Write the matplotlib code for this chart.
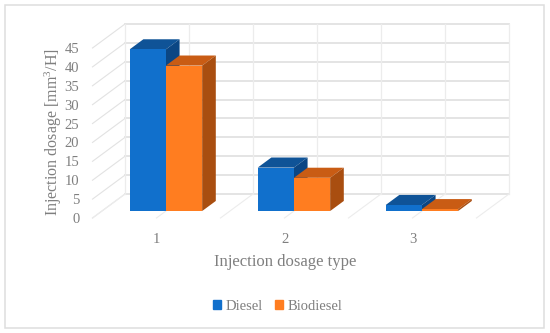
import numpy as np
from matplotlib import pyplot as plt
from matplotlib.patches import Patch, Rectangle

categories = [1, 2, 3]
diesel = [42.8, 11.5, 1.6]
biodiesel = [38.5, 8.8, 0.5]
y_ticks = [0, 5, 10, 15, 20, 25, 30, 35, 40, 45]

plt.rcParams['font.family'] = ['Liberation Serif', 'DejaVu Serif']
plt.rcParams['mathtext.default'] = 'regular'

W, H = 550, 333
txt = '#7f7f7f'
grid = '#e2e2e2'

fig = plt.figure(figsize=(W/100, H/100), dpi=100)
ax = fig.add_axes([92.5/W, (H-218)/H, 384/W, 170/H], xlim=(0.5, 3.5), ylim=(0, 45))
for s in ax.spines.values():
    s.set_visible(False)
ax.patch.set_alpha(0)

# oblique depth of the box, in data units
DX = 32.5/128
DY = 24/(170/45)
t0, t1 = 0.29, 0.71
bw = 0.283

# walls
for v in y_ticks:
    ax.plot([0.5, 0.5+DX], [v, v+DY], color=grid, lw=0.8, clip_on=False, zorder=1)
    ax.plot([0.5+DX, 3.5+DX], [v+DY, v+DY], color=grid, lw=1.3, clip_on=False, zorder=1)
for x in np.arange(0.5, 3.51, 0.5):
    ax.plot([x+DX, x+DX], [DY, 45+DY], color='#ececec', lw=0.9, clip_on=False, zorder=1)
    ax.plot([x, x+DX], [0, DY], color='#ececec', lw=0.8, clip_on=False, zorder=1)


def bars3d(xs, vals, front, top, side, z):
    for x, v in zip(xs, vals):
        l, r = x + t0*DX, x + t0*DX + bw
        b = t0*DY
        ddx = (t1-t0)*DX
        ddy = (t1-t0)*DY
        ax.fill([l, r, r+ddx, l+ddx], [b+v, b+v, b+v+ddy, b+v+ddy], color=top, lw=0, clip_on=False, zorder=z)
        ax.fill([r, r+ddx, r+ddx, r], [b, b+ddy, b+v+ddy, b+v], color=side, lw=0, clip_on=False, zorder=z)
        ax.bar(l, v, width=bw, bottom=b, align='edge', color=front, lw=0, clip_on=False, zorder=z)


cat = np.array(categories, dtype=float)
bars3d(cat - bw, diesel, '#1170cc', '#0f5397', '#0b4684', 3)
bars3d(cat, biodiesel, '#ff7d20', '#c95c14', '#a94e10', 4)

ax.set_xticks(categories)
ax.set_yticks(y_ticks)
ax.tick_params(length=0, labelcolor=txt, labelsize=10.5)
ax.tick_params(axis='x', pad=10.5)
ax.tick_params(axis='y', pad=9.5)

ax.set_xlabel('Injection dosage type', color=txt, fontsize=12)
ax.xaxis.set_label_coords((285-92.5)/384, -(262-218)/170, transform=ax.transAxes)
ax.xaxis.label.set_verticalalignment('center')
ax.set_ylabel('Injection dosage [mm$^3$/H]', color=txt, fontsize=11.5)
ax.yaxis.set_label_coords((53-92.5)/384, (218-132)/170, transform=ax.transAxes)
ax.yaxis.label.set_verticalalignment('center')

handles = [Patch(color='#1170cc', label='Diesel'), Patch(color='#ff7d20', label='Biodiesel')]
leg = fig.legend(handles=handles, loc='center', bbox_to_anchor=(277.5/W, (H-306.5)/H), ncol=2, frameon=False,
                 fontsize=10.5, labelcolor=txt, handlelength=0.58, handleheight=0.58, handletextpad=0.3,
                 columnspacing=0.8, borderpad=0, borderaxespad=0)

# chart frame
fig.add_artist(Rectangle((4.5/W, (H-327.5)/H), 539.5/W, 323/H, transform=fig.transFigure,
                         fill=False, edgecolor='#dedede', lw=1.1))

fig.savefig('out.png', dpi=100)
